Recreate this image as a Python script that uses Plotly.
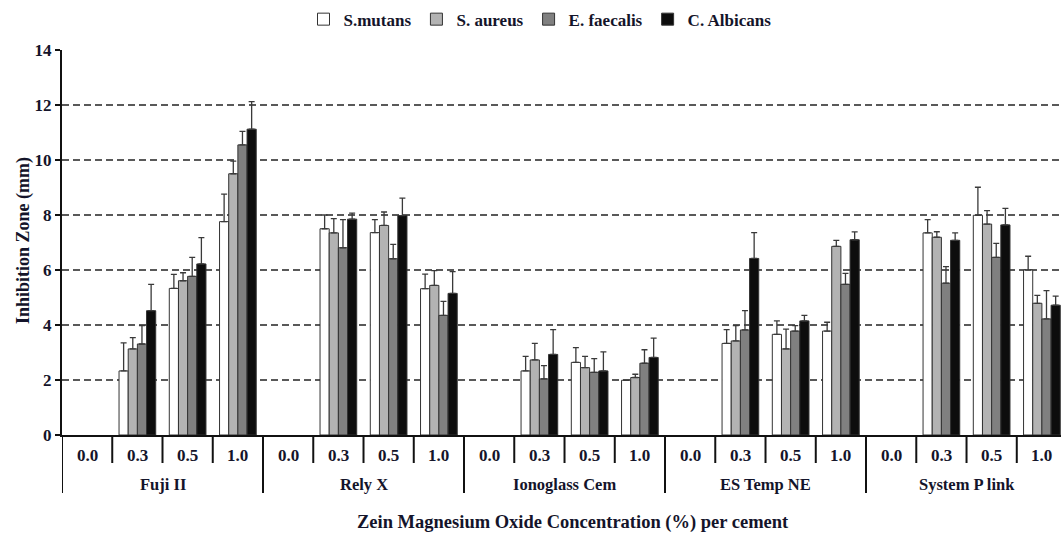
import plotly.graph_objects as go

cements = ["Fuji II", "Rely X", "Ionoglass Cem", "ES Temp NE", "System P link"]
concs = ["0.0", "0.3", "0.5", "1.0"]
series_names = ["S.mutans", "S. aureus", "E. faecalis", "C. Albicans"]

# values per cement x concentration (flattened in cement order)
s_mutans = [0, 2.33, 5.33, 7.76,  0, 7.50, 7.36, 5.32,  0, 2.33, 2.64, 1.99,  0, 3.33, 3.66, 3.78,  0, 7.35, 7.99, 6.00]
s_aureus = [0, 3.13, 5.61, 9.50,  0, 7.35, 7.62, 5.44,  0, 2.73, 2.45, 2.09,  0, 3.42, 3.13, 6.86,  0, 7.19, 7.67, 4.79]
e_faecalis = [0, 3.31, 5.77, 10.55, 0, 6.81, 6.41, 4.35, 0, 2.04, 2.28, 2.61, 0, 3.82, 3.78, 5.48, 0, 5.52, 6.46, 4.22]
c_albicans = [0, 4.52, 6.22, 11.12, 0, 7.85, 7.98, 5.15, 0, 2.93, 2.33, 2.82, 0, 6.42, 4.15, 7.10, 0, 7.08, 7.64, 4.72]

sd_mutans = [0, 1.02, 0.51, 1.00,  0, 0.50, 0.47, 0.53,  0, 0.53, 0.54, 0,     0, 0.50, 0.49, 0.32,  0, 0.48, 1.02, 0.50]
sd_aureus = [0, 0.41, 0.29, 0.46,  0, 0.52, 0.49, 0.54,  0, 0.60, 0.41, 0.12,  0, 0.56, 0.72, 0.22,  0, 0.20, 0.49, 0.29]
sd_faecalis = [0, 0.67, 0.69, 0.49, 0, 1.02, 0.52, 0.51,  0, 0.48, 0.50, 0.49,  0, 0.70, 0.20, 0.40,  0, 0.60, 0.51, 1.03]
sd_albicans = [0, 0.96, 0.96, 1.00, 0, 0.22, 0.63, 0.79,  0, 0.90, 0.69, 0.70,  0, 0.94, 0.20, 0.29,  0, 0.27, 0.60, 0.33]

values = [s_mutans, s_aureus, e_faecalis, c_albicans]
sds = [sd_mutans, sd_aureus, sd_faecalis, sd_albicans]
colors = ["#ffffff", "#b3b3b3", "#808080", "#0d0d0d"]

n_c = len(concs)
xpos = list(range(len(cements) * n_c))
x_inner = [k for _ in cements for k in concs]

FONT = "Liberation Serif"
TXT = "#14142a"
LINE = "#111111"

fig = go.Figure()
for name, vals, sd, col in zip(series_names, values, sds, colors):
    fig.add_trace(go.Bar(
        x=xpos,
        # zero-height bars are not drawn (no outline on the baseline)
        y=[v if v > 0 else None for v in vals],
        name=name,
        marker=dict(color=col, line=dict(color="#333333", width=1)),
        error_y=dict(type="data", symmetric=False,
                     array=[v if v > 0 else None for v in sd],
                     arrayminus=[0] * len(sd),
                     color="#3a3a3a", thickness=1.3, width=3),
    ))

# plot area geometry: bottom at 435px, height 385px
PH = 385.0
PW = 999.0
inner_tick = -28 / PH
group_tick = -58 / PH

shapes = []
for k in range(len(xpos)):
    b = xpos[k] - 0.5
    is_group = (k % n_c == 0)
    shapes.append(dict(type="line", xref="x", yref="paper",
                       x0=b, x1=b, y0=0, y1=group_tick if is_group else inner_tick,
                       line=dict(color=LINE, width=2)))

annotations = []
for k, lab in zip(xpos, x_inner):
    annotations.append(dict(x=k, y=-20 / PH, xref="x", yref="paper", text="<b>%s</b>" % lab,
                            showarrow=False, yanchor="middle", xanchor="center",
                            font=dict(family=FONT, size=17, color=TXT)))
for g, cem in enumerate(cements):
    gx = sum(xpos[g * n_c:(g + 1) * n_c]) / n_c
    annotations.append(dict(x=gx, y=-49 / PH, xref="x", yref="paper", text="<b>%s</b>" % cem,
                            showarrow=False, yanchor="middle", xanchor="center",
                            font=dict(family=FONT, size=16.5, color=TXT)))
annotations.append(dict(x=(573 - 62) / PW, y=-87 / PH, xref="paper", yref="paper",
                        text="<b>Zein Magnesium Oxide Concentration (%) per cement</b>",
                        showarrow=False, yanchor="middle", xanchor="center",
                        font=dict(family=FONT, size=18.5, color=TXT)))
annotations.append(dict(x=(23 - 62) / PW, y=(435 - 241) / PH, xref="paper", yref="paper",
                        text="<b>Inhibition Zone (mm)</b>", textangle=-90,
                        showarrow=False, yanchor="middle", xanchor="center",
                        font=dict(family=FONT, size=18, color=TXT)))

fig.update_layout(
    width=1061, height=534,
    margin=dict(l=62, r=0, t=50, b=99),
    paper_bgcolor="white", plot_bgcolor="white",
    barmode="group", bargap=0.27, bargroupgap=0,
    font=dict(family=FONT, size=17, color=TXT),
    legend=dict(orientation="h", x=(540 - 62) / PW, xanchor="center", y=0.997, yanchor="top",
                yref="container", font=dict(family=FONT, size=17, color=TXT, weight="bold"),
                itemwidth=30, tracegroupgap=0),
    showlegend=True,
    shapes=shapes,
    annotations=annotations,
)

fig.update_xaxes(
    range=[-0.5, 19.38],
    showline=True, linecolor=LINE, linewidth=2,
    showticklabels=False, ticks="",
    showgrid=False, zeroline=False,
)
fig.update_yaxes(
    range=[0, 14], dtick=2,
    showline=True, linecolor=LINE, linewidth=2,
    ticks="outside", ticklen=5, tickwidth=2, tickcolor=LINE,
    showgrid=True, gridcolor="#595959", gridwidth=1.6, griddash="7px,4px",
    zeroline=False,
    tickfont=dict(family=FONT, size=17, color=TXT, weight="bold"),
)

fig.write_html("out.html")
